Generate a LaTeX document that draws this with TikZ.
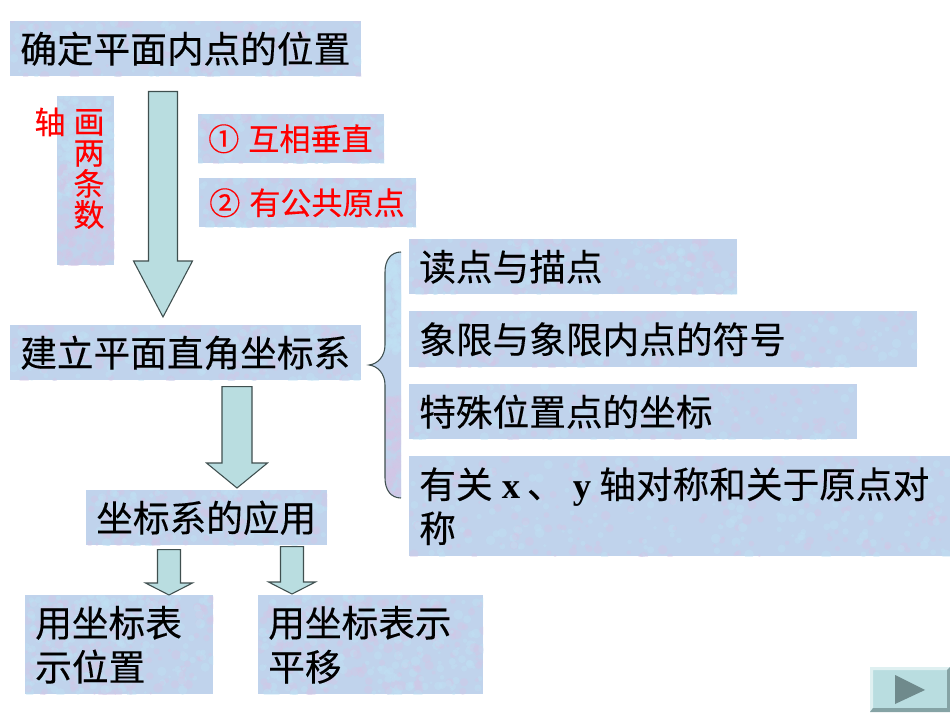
\documentclass[tikz,border=0pt]{standalone}
\usepackage{fontspec}
\setmainfont{Noto Sans CJK SC}[FakeBold=0.25]
\newfontfamily\latinfont{Liberation Serif}
\usetikzlibrary{calc}
\definecolor{texblue}{HTML}{C0D3EC}
\definecolor{texlilac}{HTML}{D4C6E6}
\definecolor{texsky}{HTML}{BFE2F4}
\definecolor{arrowfill}{HTML}{B9DDE0}
\definecolor{arrowline}{HTML}{3F4F4F}
\definecolor{btndark}{HTML}{6F8A8C}
\tikzset{
  mottle/.style={fill=texblue,path picture={
    \foreach \n in {1,...,200}{
      \fill[texlilac,opacity=.4] ($(path picture bounding box.south west)!rnd!(path picture bounding box.south east)$) ++(0,-100*rnd) circle (1.5+3.5*rnd);
      \fill[texsky,opacity=.4] ($(path picture bounding box.north west)!rnd!(path picture bounding box.north east)$) ++(0,100*rnd) circle (1.5+3.5*rnd);
    }}},
  tbox/.style 2 args={mottle,draw=none,anchor=north west,inner xsep=7.5pt,inner ysep=0pt,
    minimum width=#1*.75pt,minimum height=#2*.75pt,text width=#1*.75pt-15pt,align=left,
    font=\fontsize{27.5pt}{33pt}\selectfont},
  redbox/.style 2 args={tbox={#1}{#2},text=red,font=\fontsize{23.3pt}{28pt}\selectfont},
  redtxt/.style={text=red,inner sep=0pt,align=center,font=\fontsize{23.3pt}{23.3pt}\selectfont},
  fatarrow/.style n args={5}{draw=arrowline,fill=arrowfill,line width=.8pt,line join=miter,to path={
    ($(\tikztostart)+(-#1,#4)$) -- ($(\tikztostart)+(#1,#4)$)
    -- ($(\tikztotarget)+(#1,-#5-#3)$) -- ($(\tikztotarget)+(#2,-#5-#3)$)
    -- ($(\tikztotarget)+(0,-#5)$)
    -- ($(\tikztotarget)+(-#2,-#5-#3)$) -- ($(\tikztotarget)+(-#1,-#5-#3)$) -- cycle}},
}
\pgfmathsetseed{11}
\begin{document}
\begin{tikzpicture}[x=.75pt,y=-.75pt]
\useasboundingbox (0,0) rectangle (950,713);
\node[tbox={351}{55}] (title) at (10,21) {\raisebox{-1.5pt}{确定平面内点的位置}};
\node[tbox={351}{55}] (axes) at (10,325) {\raisebox{-1.5pt}{建立平面直角坐标系}};
\node[tbox={241}{55}] (apply) at (86,490) {\raisebox{-1.5pt}{坐标系的应用}};
\node[tbox={188}{99}] (pos) at (25,595) {用坐标表\\示位置};
\node[tbox={225}{99}] (shift) at (258,595) {用坐标表示\\平移};
\node[tbox={328}{55}] (read) at (409,239) {\raisebox{-1.5pt}{读点与描点}};
\node[tbox={508}{56}] (quad) at (409,311) {\raisebox{-1.5pt}{象限与象限内点的符号}};
\node[tbox={448}{55}] (special) at (409,384) {\raisebox{-1.5pt}{特殊位置点的坐标}};
\node[tbox={541}{100}] (sym) at (409,456) {\mbox{有关\hspace{7pt}{\latinfont\bfseries x}\hspace{5pt}、\hspace{7pt}{\latinfont\bfseries y}\hspace{6pt}轴对称和关于原点对}\\称};
\node[redbox={186}{49}] (perp) at (198,114) {\raisebox{-1.5pt}{①\hspace{-1pt} 互相垂直}};
\node[redbox={217}{49}] (origin) at (199,178) {\raisebox{-1.5pt}{②\hspace{-1pt} 有公共原点}};
\node[tbox={57}{169}] (vbox) at (57,96) {};
\node[redtxt] (vtxt) at (89,169) {画\\两\\条\\数};
\node[redtxt] (vend) at (50,122) {轴};
\coordinate (a1) at (163,0);
\coordinate (a2) at (237,0);
\coordinate (a3) at (169,0);
\coordinate (a4) at (292,0);
\draw[fatarrow={14.5}{29.5}{56}{15}{8}] (a1 |- title.south) to (a1 |- axes.north);
\draw[fatarrow={15}{30.5}{25}{6}{2}] (a2 |- axes.south) to (a2 |- apply.north);
\draw[fatarrow={11.5}{23.5}{12}{4}{0}] (a3 |- apply.south) to (a3 |- pos.north);
\draw[fatarrow={11.5}{23.5}{12}{1}{1}] (a4 |- apply.south) to (a4 |- shift.north);
\path[mottle] (401,252) .. controls (391,252) and (385,260) .. (385,272) -- (385,345)
  .. controls (385,356) and (378,364) .. (369,365) .. controls (378,366) and (385,374) .. (385,385)
  -- (385,478) .. controls (385,490) and (391,498) .. (401,498) -- cycle;
\draw[arrowline,line width=.8pt] (401,252) .. controls (391,252) and (385,260) .. (385,272) -- (385,345)
  .. controls (385,356) and (378,364) .. (369,365) .. controls (378,366) and (385,374) .. (385,385)
  -- (385,478) .. controls (385,490) and (391,498) .. (401,498);
\node[fill=arrowfill,anchor=north west,inner sep=0pt,minimum width=60pt,minimum height=33.75pt] (next) at (870,667) {};
\fill[white!55!arrowfill] (870,667) -- (950,667) -- (947,670) -- (873,670) -- (873,708) -- (870,712) -- cycle;
\fill[btndark!70!arrowfill] (870,712) -- (873,708) -- (947,708) -- (947,670) -- (950,667) -- (950,712) -- cycle;
\fill[btndark] (895,675) -- (925,690) -- (895,704) -- cycle;
\end{tikzpicture}
\end{document}
